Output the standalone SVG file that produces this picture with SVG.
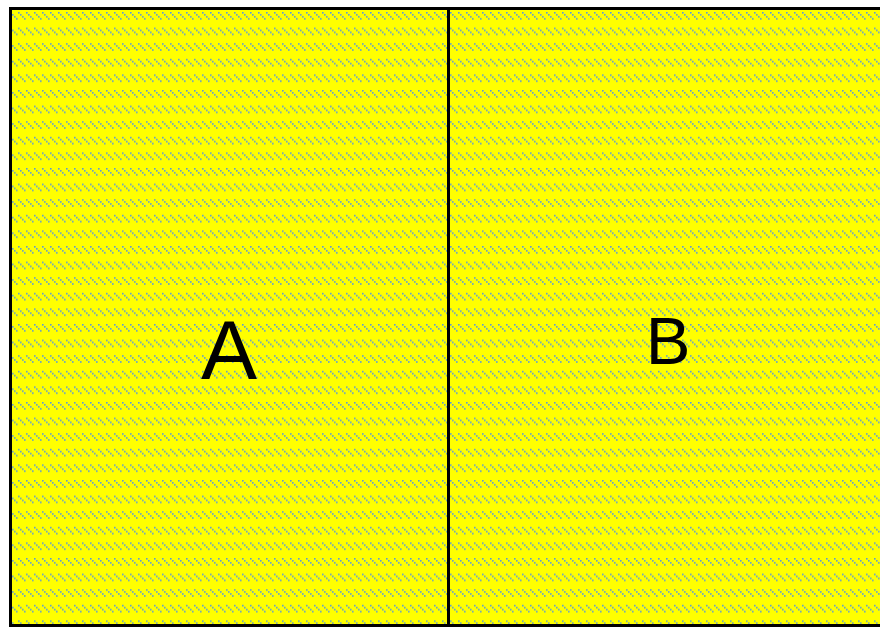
<svg xmlns="http://www.w3.org/2000/svg" width="880" height="627" viewBox="0 0 880 627">
<defs>
<pattern id="dd" patternUnits="userSpaceOnUse" x="10" y="12" width="8" height="15.6">
<rect width="8" height="15.6" fill="#ffff00"/>
<rect x="0" y="0" width="1.6" height="1.6" fill="#5b9bd5"/>
<rect x="2" y="2" width="1.6" height="1.6" fill="#5b9bd5"/>
<rect x="4" y="4" width="1.6" height="1.6" fill="#5b9bd5"/>
<rect x="6" y="6" width="1.6" height="1.6" fill="#5b9bd5"/>
</pattern>
<style>
.region{fill:url(#dd);stroke:#000;stroke-width:3}
.lbl{font-family:"Liberation Sans",Arial,sans-serif;fill:#000;text-anchor:middle}
</style>
</defs>
<g id="regionA">
<rect class="region" x="10.5" y="8.5" width="438" height="617"/>
<text class="lbl" x="229" y="379" font-size="84">A</text>
</g>
<g id="regionB">
<rect class="region" x="448.5" y="8.5" width="434" height="617"/>
<text class="lbl" x="668" y="364" font-size="67">B</text>
</g>
<g id="connectors"></g>
</svg>
